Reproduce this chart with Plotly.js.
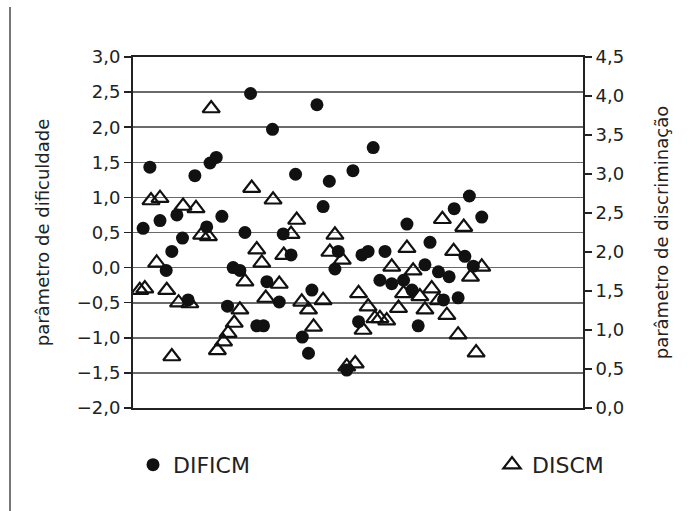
<!DOCTYPE html>
<html>
<head>
<meta charset="utf-8">
<script src="https://cdn.plot.ly/plotly-3.0.1.min.js"></script>
<style>
html,body{margin:0;padding:0;background:#fff;}
#chart{width:692px;height:511px;}
</style>
</head>
<body>
<div id="chart"></div>
<script>
// Item positions (item index) and values
var difItems = [1.8, 3.0, 4.8, 5.9, 6.9, 7.8, 8.8, 9.8, 11.0, 13.1, 13.7, 14.8, 15.8, 16.8, 17.8, 19.0, 19.9, 20.9, 22.0, 23.2, 23.8, 24.8, 26.0, 26.7, 28.1, 28.9, 30.1, 31.2, 31.8, 32.7, 33.8, 34.9, 35.9, 36.5, 38.0, 39.1, 40.1, 40.7, 41.8, 42.7, 43.9, 44.8, 46.0, 48.1, 48.7, 49.6, 50.7, 51.9, 52.8, 54.3, 55.2, 56.2, 57.1, 57.8, 59.0, 59.8, 60.5, 62.0];
var difValues = [0.56, 1.43, 0.67, -0.04, 0.23, 0.75, 0.42, -0.46, 1.31, 0.58, 1.49, 1.57, 0.73, -0.55, 0.00, -0.04, 0.50, 2.48, -0.83, -0.83, -0.20, 1.97, -0.49, 0.48, 0.18, 1.33, -0.99, -1.22, -0.32, 2.32, 0.87, 1.23, -0.02, 0.23, -1.46, 1.38, -0.77, 0.18, 0.23, 1.71, -0.18, 0.23, -0.23, -0.18, 0.62, -0.32, -0.83, 0.04, 0.36, -0.06, -0.46, -0.13, 0.84, -0.43, 0.16, 1.02, 0.02, 0.72];

var disItems = [1.2, 2.1, 3.2, 4.2, 4.8, 6.0, 6.9, 8.1, 8.9, 10.1, 11.2, 12.2, 13.4, 13.9, 15.0, 16.1, 16.9, 18.0, 19.0, 19.9, 21.1, 22.0, 22.9, 23.6, 24.9, 26.0, 26.8, 28.1, 29.1, 30.0, 31.2, 32.1, 33.8, 35.0, 35.9, 37.2, 38.0, 39.5, 40.1, 40.9, 41.8, 43.0, 43.9, 45.1, 46.0, 47.2, 48.1, 48.7, 49.8, 51.0, 51.9, 53.1, 54.3, 55.0, 55.8, 57.0, 57.8, 58.8, 60.0, 61.0, 62.0];
var disValues = [1.51, 1.53, 2.66, 1.86, 2.69, 1.51, 0.66, 1.35, 2.59, 1.34, 2.56, 2.22, 2.20, 3.84, 0.74, 0.85, 0.96, 1.09, 1.26, 1.62, 2.82, 2.03, 1.86, 1.41, 2.67, 1.59, 1.96, 2.23, 2.41, 1.36, 1.26, 1.04, 1.38, 2.00, 2.22, 1.90, 0.53, 0.57, 1.47, 1.00, 1.30, 1.15, 1.15, 1.12, 1.81, 1.28, 1.47, 2.05, 1.76, 1.43, 1.26, 1.53, 1.38, 2.42, 1.19, 2.01, 0.94, 2.32, 1.68, 0.71, 1.81];

var leftTicks = [-2.0, -1.5, -1.0, -0.5, 0.0, 0.5, 1.0, 1.5, 2.0, 2.5, 3.0];
var rightTicks = [0.0, 0.5, 1.0, 1.5, 2.0, 2.5, 3.0, 3.5, 4.0, 4.5];

var FONT = 'DejaVu Sans, Arial, sans-serif';

var traces = [
  {
    x: difItems, y: difValues, name: 'DIFICM', type: 'scatter', mode: 'markers',
    yaxis: 'y', legend: 'legend',
    marker: {symbol: 'circle', size: 13, color: '#111'}
  },
  {
    x: disItems, y: disValues, name: 'DISCM', type: 'scatter', mode: 'markers',
    yaxis: 'y2', legend: 'legend2',
    marker: {symbol: 'triangle-up-open', size: 15, color: '#111', line: {width: 2.2, color: '#111'}}
  }
];

var legendStyle = function (xpos) {
  return {
    orientation: 'h', x: xpos, xanchor: 'left', y: -0.162, yanchor: 'middle',
    font: {family: FONT, size: 22, color: '#222'},
    itemwidth: 30, bgcolor: 'rgba(0,0,0,0)'
  };
};

var layout = {
  width: 692, height: 511,
  margin: {l: 133, r: 109, t: 57, b: 103},
  paper_bgcolor: '#fff', plot_bgcolor: '#fff',
  separators: ', ',
  font: {family: FONT, color: '#222'},
  showlegend: true,
  legend: legendStyle(0),
  legend2: legendStyle(359 / 450),
  xaxis: {
    range: [0, 80], showticklabels: false, ticks: '', showgrid: false, zeroline: false,
    showline: true, mirror: true, linecolor: '#222', linewidth: 2, fixedrange: true
  },
  yaxis: {
    range: [-2, 3], tickvals: leftTicks, tickformat: '.1f',
    ticks: 'outside', ticklen: 7, tickwidth: 1.5, tickcolor: '#222',
    tickfont: {family: FONT, size: 18, color: '#222'},
    showgrid: true, gridcolor: '#6a6a6a', gridwidth: 1.6, zeroline: false,
    showline: true, linecolor: '#222', linewidth: 2,
    title: {text: 'parâmetro de dificuldade', font: {family: FONT, size: 18, color: '#222'}, standoff: 22}
  },
  yaxis2: {
    range: [0, 4.5], tickvals: rightTicks, tickformat: '.1f', overlaying: 'y', side: 'right',
    ticks: 'outside', ticklen: 7, tickwidth: 1.5, tickcolor: '#222',
    tickfont: {family: FONT, size: 18, color: '#222'},
    showgrid: false, zeroline: false,
    showline: true, linecolor: '#222', linewidth: 2,
    title: {text: 'parâmetro de discriminação', font: {family: FONT, size: 18, color: '#222'}, standoff: 32}
  },
  shapes: [
    {type: 'line', xref: 'paper', yref: 'paper', x0: -123/450, x1: -123/450, y0: -103/351, y1: 1 + 50/351,
     line: {color: '#777', width: 2}}
  ]
};

Plotly.newPlot('chart', traces, layout, {displayModeBar: false, staticPlot: true});
</script>
</body>
</html>
